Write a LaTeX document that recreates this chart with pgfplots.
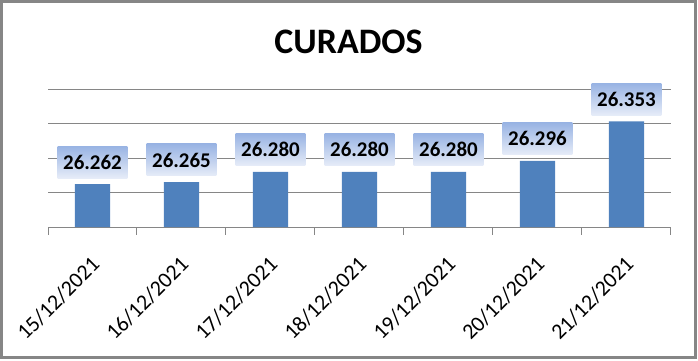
\documentclass[border=0pt]{standalone}
\usepackage{pgfplots}
\pgfplotsset{compat=1.18}
\usepackage{fontspec}
\setmainfont{Carlito}
\definecolor{barblue}{HTML}{4F81BD}
\definecolor{gridgray}{HTML}{868686}
\definecolor{lbltop}{HTML}{98B3E3}
\definecolor{lblbot}{HTML}{E6ECF8}
\def\ytrafo#1#2{{\pgfkeys{/pgf/fpu=true,/pgf/fpu/output format=fixed}\pgfmathparse{#1#2}\global\let\myytrafores\pgfmathresult}\let\pgfmathresult\myytrafores}
\begin{document}
\begin{tikzpicture}
\path[use as bounding box] (-48bp,-134bp) rectangle (650bp,227bp);
\draw[gridgray, line width=3bp] (-46.5bp,-130.5bp) rectangle (647bp,225.5bp);
\node[font=\bfseries\fontsize{36}{36}\selectfont, anchor=base, inner sep=0pt] at (300.5bp,173.7bp) {CURADOS};
\begin{axis}[
  at={(0,0)}, anchor=south west,
  scale only axis, width=623bp, height=138bp,
  xmin=-0.5, xmax=6.5, ymin=26200, ymax=26400,
  y coord trafo/.code={\ytrafo{#1}{-26200}},
  y coord inv trafo/.code={\ytrafo{#1}{+26200}},
  ybar, bar width=35bp,
  axis line style={draw=none},
  ytick={26200,26250,26300,26350,26400}, yticklabels={},
  ymajorgrids, grid style={gridgray, line width=1bp},
  xtick={0,...,6},
  xticklabels={15/12/2021,16/12/2021,17/12/2021,18/12/2021,19/12/2021,20/12/2021,21/12/2021},
  major tick length=0pt,
  minor xtick={-0.5,0.5,...,6.5},
  minor x tick style={gridgray, line width=1bp},
  minor tick length=7.5bp,
  tick align=outside,
  xtick pos=left, ytick pos=left,
  xticklabel style={xshift=-2.5bp, yshift=-28bp, rotate=45, anchor=north east, inner sep=0pt, font=\fontsize{22}{22}\selectfont},
  clip mode=individual,
  point meta=rawy,
  nodes near coords={\pgfmathprintnumber[assume math mode=true, 1000 sep={.}]{\pgfplotspointmeta}},
  nodes near coords style={anchor=south, yshift=6bp, top color=lbltop, bottom color=lblbot, draw=none, font=\bfseries\fontsize{21}{21}\selectfont, inner xsep=5.5bp, inner ysep=0pt, minimum height=32bp, text depth=0pt},
]
\addplot[fill=barblue, draw=none] coordinates {(0,26262) (1,26265) (2,26280) (3,26280) (4,26280) (5,26296) (6,26353)};
\end{axis}
\end{tikzpicture}
\end{document}
